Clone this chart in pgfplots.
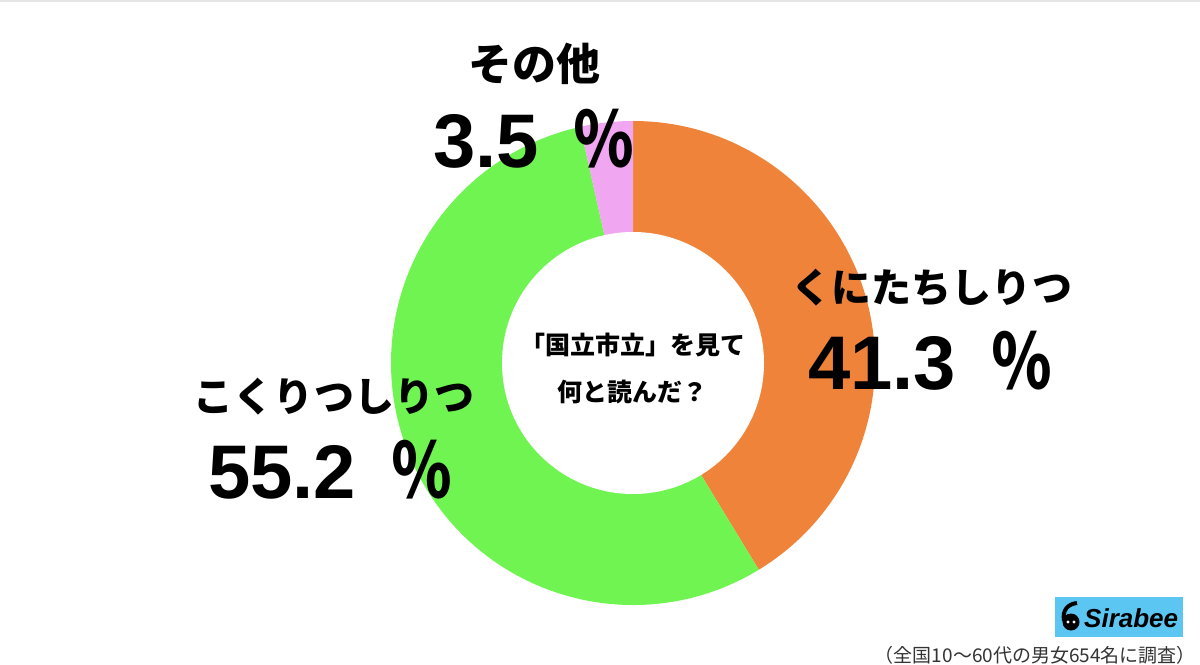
\documentclass[border=0pt]{standalone}
\usepackage{pgfplots}
\pgfplotsset{compat=1.18}
\usepackage{pgfplotstable}
\usepackage{graphicx}
\usepackage{fontspec}
\setmainfont{Liberation Sans}
\newfontfamily\jp{Noto Sans CJK JP}

\definecolor{cOrange}{HTML}{EF833A}
\definecolor{cGreen}{HTML}{70F452}
\definecolor{cPink}{HTML}{F0A6F0}
\definecolor{cLogo}{HTML}{5BC6F2}

\newcommand\pct{\hspace{35pt}\scalebox{0.8}[1]{\jp\bfseries ％}}

% share in percent, clockwise from 12 o'clock
\pgfplotstableread{
label     value
kunitachi 41.3
kokuritsu 55.2
other     3.5
}\shares

\begin{document}
\begin{tikzpicture}
\pgfplotstablegetelem{0}{value}\of\shares \let\vA\pgfplotsretval
\pgfplotstablegetelem{1}{value}\of\shares \let\vB\pgfplotsretval
\pgfplotstablegetelem{2}{value}\of\shares \let\vC\pgfplotsretval
\pgfmathsetmacro\aA{90}
\pgfmathsetmacro\aB{\aA-3.6*\vA}
\pgfmathsetmacro\aC{\aB-3.6*\vB}
\pgfmathsetmacro\aD{\aC-3.6*\vC}
\begin{axis}[
 scale only axis, width=1200pt, height=670pt,
 xmin=0, xmax=1200, ymin=0, ymax=670, y dir=reverse,
 hide axis, clip=false
]
% thin rule at the very top
\fill[black!10] (axis cs:0,0) rectangle (axis cs:1200,2);

% donut
\fill[cOrange] (axis cs:633,363) -- ++(\aA:242pt) arc[start angle=\aA, end angle=\aB, radius=242pt] -- cycle;
\fill[cGreen]  (axis cs:633,363) -- ++(\aB:242pt) arc[start angle=\aB, end angle=\aC, radius=242pt] -- cycle;
\fill[cPink]   (axis cs:633,363) -- ++(\aC:242pt) arc[start angle=\aC, end angle=\aD, radius=242pt] -- cycle;
\fill[white]   (axis cs:633,363) circle[radius=131pt];

% centre question
\node[inner sep=0, font=\jp\bfseries\fontsize{25}{25}\selectfont] at (axis cs:633,345) {「国立市立」を見て};
\node[inner sep=0, font=\jp\bfseries\fontsize{25}{25}\selectfont] at (axis cs:632,392) {何と読んだ？};

% slice labels
\node[inner sep=0, font=\jp\bfseries\fontsize{44}{44}\selectfont] at (axis cs:534,64) {その他};
\node[inner sep=0, anchor=base west, font=\bfseries\fontsize{76}{76}\selectfont] at (axis cs:433,168) {3.5\pct};

\node[inner sep=0, font=\jp\bfseries\fontsize{40}{40}\selectfont] at (axis cs:932,288) {くにたちしりつ};
\node[inner sep=0, anchor=base west, font=\bfseries\fontsize{76}{76}\selectfont] at (axis cs:808,389) {41.3\pct};

\node[inner sep=0, font=\jp\bfseries\fontsize{40}{40}\selectfont] at (axis cs:334,397) {こくりつしりつ};
\node[inner sep=0, anchor=base west, font=\bfseries\fontsize{76}{76}\selectfont] at (axis cs:208,498) {55.2\pct};

% logo
\fill[cLogo] (axis cs:1055,597) rectangle (axis cs:1183,637);
\fill[black] (axis cs:1071,622) circle[radius=8.5pt];
\draw[black, line width=4pt] (axis cs:1064,621) .. controls (axis cs:1062,610) and (axis cs:1068,604) .. (axis cs:1077,603);
\fill[white] (axis cs:1068,622) circle[radius=1.6pt];
\fill[white] (axis cs:1074,622) circle[radius=1.6pt];
\node[inner sep=0, anchor=west, font=\bfseries\itshape\fontsize{26}{26}\selectfont] at (axis cs:1084,618) {Sirabee};

% note
\node[inner sep=0, anchor=east, text=black!80, font=\jp\fontsize{19}{19}\selectfont] at (axis cs:1196,655) {（全国10～60代の男女654名に調査）};
\end{axis}
\end{tikzpicture}
\end{document}
